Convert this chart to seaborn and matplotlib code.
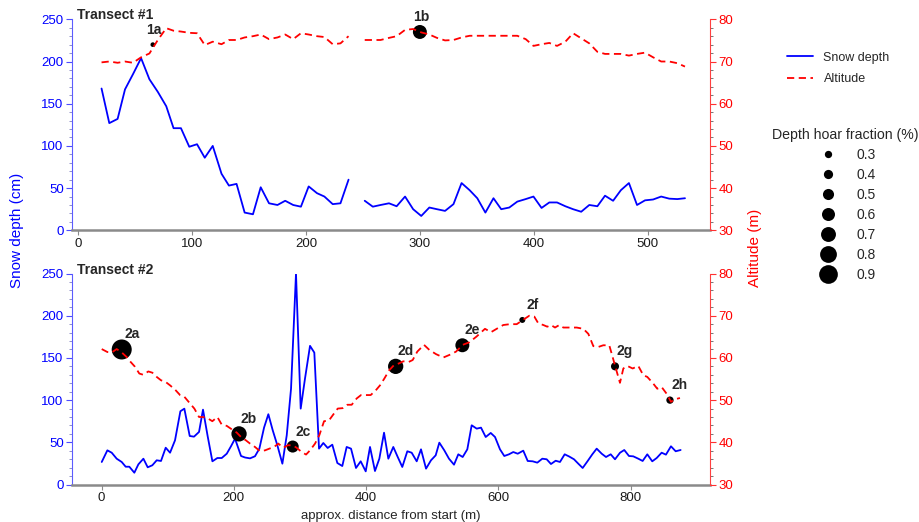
import numpy as np
import pandas as pd
import seaborn as sns
import matplotlib.pyplot as plt
from matplotlib.lines import Line2D
from matplotlib.ticker import MultipleLocator

# ---- Transect #1 (nan = gap in the record)
dist1 = [20.6, 27.4, 34.7, 41.2, 48.2, 55.3, 62.6, 70.0, 77.4, 83.8, 90.3, 97.6, 104.4,
         111.2, 118.2, 125.9, 132.4, 139.1, 146.2, 153.5, 160.3, 167.6, 175.0, 181.8,
         188.8, 195.6, 202.4, 209.7, 216.2, 223.5, 230.3, 237.4, 244.5, 251.6, 258.7,
         265.5, 272.9, 279.6, 287.0, 294.1, 301.2, 308.3, 315.0, 322.1, 329.5, 336.6,
         343.7, 350.4, 357.5, 364.6, 371.4, 378.5, 385.5, 392.9, 399.7, 406.8, 413.6,
         420.4, 427.7, 434.5, 441.6, 448.7, 455.8, 462.5, 469.6, 476.4, 483.5, 490.6,
         497.6, 504.7, 511.8, 518.9, 526.0, 532.7]
depth1 = [168, 127, 132, 167, 185, 204, 179, 164, 147, 121, 121, 99, 102, 86, 100, 67,
          53, 55, 21, 19, 51, 32, 30, 35, 30, 28, 52, 44, 40, 31, 32, 60, np.nan,
          35, 28, 30, 32, 28.5, 40, 25, 17, 27, 25, 23, 31, 56, 47.5, 38, 21, 38, 25,
          27, 34, 37, 40, 26.5, 33, 33, 28.5, 25, 22, 30, 28.5, 41, 35, 47.5, 56, 30,
          35.5, 36.5, 40, 37.5, 37, 38]
alt1 = [69.8, 70, 69.7, 70, 69.7, 71, 71.9, 75.1, 77.9, 77.3, 77.1, 76.8, 76.7, 73.9,
        74.7, 74.1, 75.1, 75.1, 75.7, 76, 76.4, 75.3, 75.7, 76.4, 75.3, 76.7, 76.4, 76,
        75.8, 74.1, 74.3, 76, np.nan,
        75.1, 75.1, 75.1, 75.6, 76, 77.5, 77.7, 76.9, 76.4, 75.6, 75, 75.1, 75.7, 76.1,
        76.1, 76.1, 76.1, 76.1, 76.1, 76.1, 75.3, 73.7, 74.1, 74.4, 73.7, 74.7, 76.7,
        75.5, 74.3, 72.3, 71.8, 71.8, 71.8, 71.4, 71.8, 72.1, 71, 70, 70, 69.6, 68.8]

# ---- Transect #2
dist2 = [0.3, 8.8, 15.4, 22.9, 30.5, 36.5, 42, 49.6, 55.7, 63.3, 69.8, 76.8, 83.4, 89.9,
         97, 103.6, 111.1, 119.2, 125.2, 133.3, 139.8, 147.4, 153.4, 160.5, 167.6, 175.1,
         181.7, 189.3, 195.5, 201.8, 210.9, 217, 224.5, 232, 238.6, 245.7, 252.2, 258.8,
         265.8, 273.4, 280, 286.5, 294, 301.1, 307.6, 315.2, 321.7, 328.8, 335.3, 341.9,
         348.9, 356.5, 364, 370.6, 377.2, 384.7, 391.8, 399.4, 405.9, 413.4, 420, 427.1,
         433.6, 441.1, 447.8, 454.7, 462.3, 468.9, 476.5, 483, 490.6, 498.1, 505.2, 510.7,
         518.2, 525.3, 532.9, 539.4, 546, 553, 559.6, 567.2, 573.7, 580.8, 588.4, 594.9,
         602.4, 608.9, 616, 622.5, 629.2, 637.6, 644.3, 651.8, 658.8, 666.4, 673, 679.5,
         686.6, 693.1, 700.2, 707, 714.3, 720.8, 727.4, 735, 742, 748.6, 756.2, 762.7,
         769.8, 776.3, 783.9, 790.3, 797.4, 803.9, 811.5, 818.1, 825.1, 832.6, 839.3,
         846.8, 853.3, 860.9, 868, 875.5]
depth2 = [26.7, 40.5, 37.7, 30.6, 26.7, 21.1, 21.1, 14, 23.9, 30.6, 20.4, 22.8, 28.7, 27.9,
          43.6, 37.7, 52.4, 86.8, 89.9, 57.5, 56.7, 62.3, 88.7, 57, 27.5, 31.4,
          31.4, 36.5, 45, 54.3, 33.8, 32, 31, 33.5, 42.5, 67.4, 83.3, 64.3,
          46.5, 24.7, 58.3, 113.6, 250, 89.9, 125.5, 164.3, 156.3, 42.5, 49.2, 43.3,
          47.2, 25.5, 21.9, 44.5, 42.5, 19.6, 27.5, 15.6, 44.5, 16, 30.6, 61.4,
          30.6, 44.5, 32.6, 20.8, 39.4, 37.7, 27.5, 41.7, 18.8, 28.7, 34.6, 49.6,
          40.5, 30.6, 23.5, 35.8, 32.6, 41.7, 70.2, 66.2, 67.4, 56.3, 61.1, 56.3,
          41.7, 33.8, 35.8, 38.5, 36.5, 40.1, 27.9, 27.5, 25.9, 30.6, 29.9, 24.3,
          28.2, 26.7, 35.8, 33.2, 29.9, 24.7, 19.6, 27.9, 35.8, 42.5, 36.5, 32.6,
          35.8, 29.9, 37.7, 40.9, 33.8, 33.4, 30.6, 27.9, 35.8, 27.5, 31.4,
          37.7, 35.4, 45.3, 39.4, 40.9]
dist2_alt = [0.3, 8.8, 15.4, 22.9, 30.5, 38.1, 43.1, 50.6, 57.1, 63.2, 70.7, 76.8, 83.4,
             89.9, 97, 103.6, 111.1, 118.7, 125.2, 133.8, 140.3, 147.4, 153.4, 161.5,
             167.5, 175.1, 181.7, 189.3, 195.8, 204.4, 211.9, 218, 224.5, 232, 239.6,
             247.2, 253.7, 260.8, 267.3, 274.8, 281.5, 289, 295.1, 302.6, 309.2, 315.2,
             322.8, 329.3, 336.4, 343.9, 350.4, 357.1, 364.6, 371.6, 378.2, 385.8, 392.3,
             399.8, 406.9, 414.5, 421, 427.5, 435, 442.2, 449.7, 456.2, 463.8, 470.4,
             477.4, 487.5, 495.6, 505.7, 516.8, 525.8, 536, 546, 556, 567.2, 579.7,
             588.8, 597.4, 607.4, 617.5, 627.7, 636.2, 646.7, 654.3, 660.3, 667.9, 673.9,
             679.5, 685.6, 692.1, 698.2, 708.3, 718.4, 728.4, 736, 743.5, 751, 758.6,
             767.6, 771.3, 776.3, 783.8, 788.9, 794.9, 803, 811.5, 819.1, 825.1, 833.2,
             840.2, 846.8, 854.4, 860.9, 867, 874.5]
alt2 = [62.1, 61.4, 61.3, 62.1, 61.3, 60.2, 59.2, 57.9, 56.3, 56, 56.8, 56.5, 55.5,
        54.7, 54.3, 53.5, 52.5, 51.2, 50.8, 49.2, 48, 46, 46, 45.6,
        45, 46, 44.2, 43.9, 43.2, 42.3, 41.1, 40.5, 39.7, 38.9, 37.9,
        38.1, 38.5, 38.9, 39.7, 38.7, 39.3, 39.3, 38.7, 37.7, 37.1, 38.1,
        39.7, 41.7, 45, 45.2, 46.6, 48, 48.1, 48.9, 48.9, 50.4, 51.2,
        51.2, 51.2, 52.3, 53.5, 55.1, 57.1, 58.3, 58.7, 59.2, 59, 59.5,
        61.5, 63.1, 61.9, 60.9, 60.1, 60.7, 61.5, 63.1, 63.7, 65.1, 66.9,
        66.1, 66.9, 67.8, 68, 68, 68.9, 70, 69.8, 68.2, 67.8, 67.4,
        67.8, 67.2, 67.8, 67.2, 67.2, 67.2, 66.9, 65.7, 62.8, 62.6, 63,
        63, 61, 58.2, 54.1, 57.5, 58.1, 57.5, 58.1, 55.9, 55.5, 54.1,
        52.7, 53.1, 51.5, 49.6, 50.2, 50.5]

# ---- depth hoar samples (placed on the snow depth axis)
hoar1_lab = ['1a', '1b']
hoar1_x = [65.6, 300]
hoar1_y = [220, 235]
hoar1_frac = [0.16, 0.65]
hoar2_lab = ['2a', '2b', '2c', '2d', '2e', '2f', '2g', '2h']
hoar2_x = [30.5, 207.9, 289, 444.7, 545.5, 636.2, 776.3, 859.4]
hoar2_y = [160, 60, 45, 140, 165, 195, 140, 100]
hoar2_frac = [0.97, 0.72, 0.55, 0.72, 0.65, 0.23, 0.34, 0.30]
legend_frac = [0.3, 0.4, 0.5, 0.6, 0.7, 0.8, 0.9]


def marker_diam(f):
    # marker diameter in points
    return (7.3 + (f - 0.3) * 19) * 0.72


sns.set_style('ticks')
plt.rcParams['font.family'] = ['Liberation Sans', 'DejaVu Sans']

BLUE = '#0000ff'
RED = '#ff0000'

fig = plt.figure(figsize=(9.2, 5.22), dpi=100)
ax1 = fig.add_axes([0.0783, 0.5588, 0.6935, 0.4042])
ax2 = fig.add_axes([0.0783, 0.0718, 0.6935, 0.4042])


def draw_panel(ax, dist, depth, dist_alt, alt, hx, hy, hf, hlab, title, xlim, xstep, lab_dx):
    d = pd.DataFrame({'dist': dist, 'depth': depth})
    d['seg'] = d['depth'].isna().cumsum()
    sns.lineplot(data=d.dropna(), x='dist', y='depth', units='seg', estimator=None,
                 color=BLUE, lw=1.3, ax=ax)
    h = pd.DataFrame({'x': hx, 'y': hy, 'frac': hf})
    sns.scatterplot(data=h, x='x', y='y', size='frac',
                    sizes={f: marker_diam(f) ** 2 for f in hf},
                    color='black', linewidth=0, legend=False, ax=ax, zorder=3)
    for lab, x, y in zip(hlab, hx, hy):
        ax.annotate(lab, (x, y), xytext=(lab_dx, 10.8), textcoords='offset points',
                    ha='center', va='center', fontsize=10, fontweight='bold')

    axr = ax.twinx()
    a = pd.DataFrame({'dist': dist_alt, 'alt': alt})
    a['seg'] = a['alt'].isna().cumsum()
    sns.lineplot(data=a.dropna(), x='dist', y='alt', units='seg', estimator=None,
                 color=RED, lw=1.3, linestyle=(0, (4, 2.5)), ax=axr)

    ax.set_xlim(*xlim)
    ax.set_ylim(0, 250)
    axr.set_ylim(30, 80)
    ax.xaxis.set_major_locator(MultipleLocator(xstep))
    ax.yaxis.set_major_locator(MultipleLocator(50))
    ax.yaxis.set_minor_locator(MultipleLocator(10))
    axr.yaxis.set_major_locator(MultipleLocator(10))
    axr.yaxis.set_minor_locator(MultipleLocator(2))
    ax.set_xlabel('')
    ax.set_ylabel('')
    axr.set_ylabel('')

    for s in ['top', 'right']:
        ax.spines[s].set_visible(False)
    for s in ['top', 'left', 'bottom']:
        axr.spines[s].set_visible(False)
    ax.spines['left'].set_color('#5c5cff')
    ax.spines['bottom'].set_color('#8a8a8a')
    ax.spines['bottom'].set_linewidth(1.8)
    axr.spines['right'].set_color('#ff4040')

    ax.tick_params(axis='y', which='major', colors='#4d4dff', labelcolor=BLUE,
                   length=4, labelsize=9.5, pad=2)
    ax.tick_params(axis='y', which='minor', colors='#8080c0', length=2)
    ax.tick_params(axis='x', colors='#8a8a8a', labelcolor='#1a1a1a',
                   length=3.5, labelsize=9.5, pad=2)
    axr.tick_params(axis='y', which='major', colors='#ff3030', labelcolor=RED,
                    length=4, labelsize=9.5, pad=2)
    axr.tick_params(axis='y', which='minor', colors='#606060', length=2)

    ax.text(0.008, 1.0, title, transform=ax.transAxes, ha='left', va='baseline',
            fontsize=10, fontweight='bold')
    return axr


draw_panel(ax1, dist1, depth1, dist1, alt1, hoar1_x, hoar1_y, hoar1_frac, hoar1_lab,
           'Transect #1', (-5.3, 554.7), 100, 0.7)
draw_panel(ax2, dist2, depth2, dist2_alt, alt2, hoar2_x, hoar2_y, hoar2_frac, hoar2_lab,
           'Transect #2', (-44.6, 920), 200, 7.2)

ax2.set_xlabel('approx. distance from start (m)', fontsize=9.5, labelpad=4.2)

fig.text(17.5 / 920, 1 - 230 / 522, 'Snow depth (cm)', rotation=90, color=BLUE,
         fontsize=11, ha='center', va='center')
fig.text(755 / 920, 1 - 248 / 522, 'Altitude (m)', rotation=90, color=RED,
         fontsize=11, ha='center', va='center')

# legends
line_handles = [Line2D([], [], color=BLUE, lw=1.3),
                Line2D([], [], color=RED, lw=1.3, linestyle=(0, (4, 2.5)))]
fig.legend(line_handles, ['Snow depth', 'Altitude'], loc='upper left',
           bbox_to_anchor=(781 / 920, 1 - 45.5 / 522), frameon=False, fontsize=9,
           borderpad=0, handlelength=2.1, handletextpad=0.8, labelspacing=0.75)

size_handles = [Line2D([], [], marker='o', ls='', color='black', markeredgewidth=0,
                       markersize=marker_diam(f)) for f in legend_frac]
fig.legend(size_handles, [str(f) for f in legend_frac], loc='upper center',
           bbox_to_anchor=(845 / 920, 1 - 121 / 522), frameon=False, fontsize=10,
           title='Depth hoar fraction (%)', title_fontsize=10.2, borderpad=0,
           handlelength=2.0, handletextpad=1.0, labelspacing=0.43)

fig.savefig('out.png', dpi=100)
